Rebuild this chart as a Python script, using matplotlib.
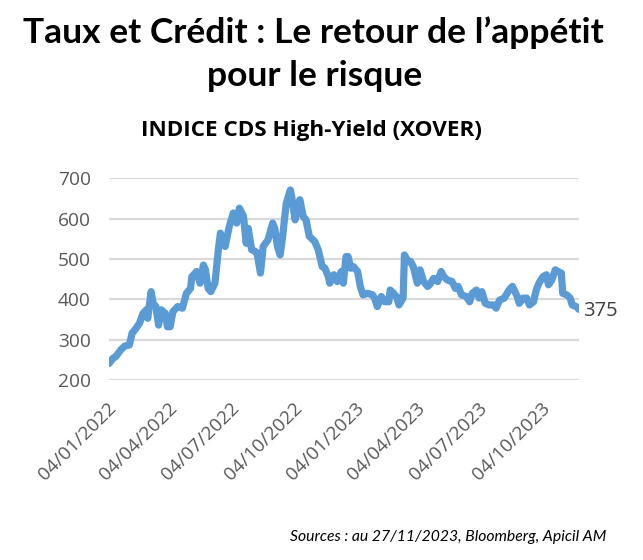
import matplotlib
matplotlib.use("Agg")
import matplotlib.pyplot as plt
import matplotlib.dates as mdates
import matplotlib.transforms as mtransforms
import pandas as pd

# Données (indice XOVER, pb)
dates = [
    "2022-01-04", "2022-01-10", "2022-01-14", "2022-01-21", "2022-01-27", "2022-02-03",
    "2022-02-07", "2022-02-11", "2022-02-18", "2022-02-23", "2022-02-28", "2022-03-02",
    "2022-03-07", "2022-03-10", "2022-03-14", "2022-03-18", "2022-03-22", "2022-03-28",
    "2022-03-31", "2022-04-04", "2022-04-08", "2022-04-15", "2022-04-22", "2022-04-28",
    "2022-05-04", "2022-05-06", "2022-05-13", "2022-05-18", "2022-05-23", "2022-05-26",
    "2022-05-30", "2022-06-03", "2022-06-09", "2022-06-14", "2022-06-17", "2022-06-21",
    "2022-06-24", "2022-06-30", "2022-07-06", "2022-07-11", "2022-07-15", "2022-07-21",
    "2022-07-25", "2022-07-28", "2022-08-02", "2022-08-08", "2022-08-10", "2022-08-15",
    "2022-08-19", "2022-08-26", "2022-09-02", "2022-09-05", "2022-09-09", "2022-09-13",
    "2022-09-16", "2022-09-22", "2022-09-28", "2022-09-30", "2022-10-05", "2022-10-10",
    "2022-10-12", "2022-10-17", "2022-10-21", "2022-10-26", "2022-11-03", "2022-11-08",
    "2022-11-14", "2022-11-18", "2022-11-23", "2022-11-25", "2022-12-01", "2022-12-06",
    "2022-12-12", "2022-12-15", "2022-12-19", "2022-12-22", "2022-12-26", "2022-12-30",
    "2023-01-05", "2023-01-09", "2023-01-13", "2023-01-20", "2023-01-27", "2023-01-30",
    "2023-02-03", "2023-02-09", "2023-02-14", "2023-02-20", "2023-02-22", "2023-02-27",
    "2023-03-03", "2023-03-07", "2023-03-13", "2023-03-15", "2023-03-20", "2023-03-24",
    "2023-03-28", "2023-04-03", "2023-04-07", "2023-04-12", "2023-04-18", "2023-04-21",
    "2023-04-27", "2023-05-03", "2023-05-08", "2023-05-12", "2023-05-17", "2023-05-24",
    "2023-05-29", "2023-06-02", "2023-06-07", "2023-06-14", "2023-06-19", "2023-06-23",
    "2023-06-29", "2023-07-03", "2023-07-07", "2023-07-12", "2023-07-18", "2023-07-24",
    "2023-07-28", "2023-08-02", "2023-08-09", "2023-08-16", "2023-08-21", "2023-08-28",
    "2023-08-31", "2023-09-06", "2023-09-11", "2023-09-15", "2023-09-21", "2023-09-25",
    "2023-09-29", "2023-10-05", "2023-10-10", "2023-10-13", "2023-10-18", "2023-10-23",
    "2023-10-27", "2023-11-01", "2023-11-03", "2023-11-09", "2023-11-14", "2023-11-17",
    "2023-11-23", "2023-11-27",
]
xover = [
    241, 254, 258, 274, 284, 287,
    316, 324, 341, 365, 374, 353,
    419, 390, 382, 336, 374, 365,
    332, 332, 369, 382, 378, 415,
    427, 456, 469, 440, 485, 473,
    427, 419, 440, 523, 564, 547,
    531, 580, 614, 589, 626, 606,
    539, 576, 523, 518, 514, 465,
    531, 547, 589, 576, 531, 510,
    547, 638, 671, 655, 597, 638,
    647, 605, 597, 556, 543, 523,
    481, 477, 456, 440, 461, 444,
    469, 440, 506, 506, 477, 481,
    469, 432, 411, 415, 411, 403,
    382, 407, 394, 394, 423, 415,
    407, 386, 403, 510, 494, 494,
    481, 440, 473, 445, 432, 436,
    452, 444, 469, 456, 448, 444,
    427, 432, 411, 407, 394, 415,
    423, 403, 419, 390, 386, 386,
    378, 398, 403, 423, 432, 407,
    390, 403, 403, 386, 394, 423,
    440, 456, 461, 436, 448, 473,
    469, 465, 415, 411, 403, 386,
    382, 375,
]
tick_dates = ["2022-01-04", "2022-04-04", "2022-07-04", "2022-10-04",
              "2023-01-04", "2023-04-04", "2023-07-04", "2023-10-04"]
y_ticks = [200, 300, 400, 500, 600, 700]

x = pd.to_datetime(dates)
ticks = pd.to_datetime(tick_dates)

fig = plt.figure(figsize=(6.43, 5.6), dpi=100)
ax = fig.add_axes([109 / 643, 1 - 380 / 560, 470 / 643, (380 - 178.3) / 560])

ax.plot(x, xover, color="#5B9BD5", linewidth=5.2, solid_joinstyle="round",
        solid_capstyle="round", zorder=3)

ax.set_xlim(x[0], x[-1])
ax.set_ylim(200, 700)
ax.set_yticks(y_ticks)
ax.set_xticks(ticks)
ax.xaxis.set_major_formatter(mdates.DateFormatter("%d/%m/%Y"))

ax.grid(axis="y", color="#D9D9D9", linewidth=1.6, zorder=0)
ax.grid(axis="x", visible=False)
for s in ax.spines.values():
    s.set_visible(False)
ax.tick_params(axis="both", length=0, colors="#595959", labelsize=13.8)
ax.tick_params(axis="y", pad=13)
ax.tick_params(axis="x", pad=14)

# décalage des étiquettes de dates vers la droite (style Excel)
shift = mtransforms.ScaledTranslation(8 / 72, 0, fig.dpi_scale_trans)
for lab in ax.get_xticklabels():
    lab.set_rotation(45)
    lab.set_ha("right")
    lab.set_family("Open Sans")
    lab.set_transform(lab.get_transform() + shift)
for lab in ax.get_yticklabels():
    lab.set_family("Open Sans")

ax.annotate(str(xover[-1]), xy=(x[-1], xover[-1]), xytext=(3, -1),
            textcoords="offset points", va="center", ha="left",
            fontsize=14.5, color="#404040", family="Open Sans")

fig.text(313 / 643, 1 - 33 / 560, "Taux et Crédit : Le retour de l’appétit",
         ha="center", va="center", fontsize=25.5, fontweight="bold", family="Lato")
fig.text(315 / 643, 1 - 76 / 560, "pour le risque",
         ha="center", va="center", fontsize=25.5, fontweight="bold", family="Lato")
fig.text(311 / 643, 1 - 130 / 560, "INDICE CDS High-Yield (XOVER)",
         ha="center", va="center", fontsize=16.2, fontweight="bold", family="Open Sans")
fig.text(606 / 643, 1 - 537 / 560, "Sources : au 27/11/2023, Bloomberg, Apicil AM",
         ha="right", va="center", fontsize=11.3, style="italic", family="Lato")

fig.savefig("out.png", dpi=100)
